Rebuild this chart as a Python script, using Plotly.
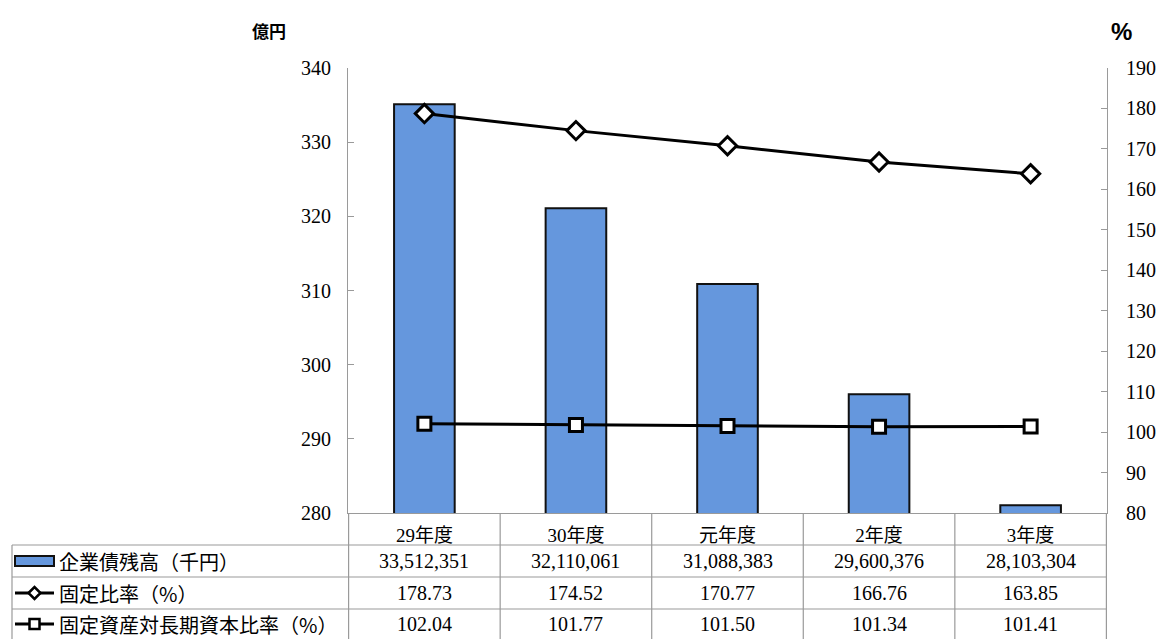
import plotly.graph_objects as go

# Fiscal years and values
years = ["29年度", "30年度", "元年度", "2年度", "3年度"]
bond_balance_k = [33512351, 32110061, 31088383, 29600376, 28103304]   # 企業債残高（千円）
fixed_ratio = [178.73, 174.52, 170.77, 166.76, 163.85]                 # 固定比率（%）
fixed_long_ratio = [102.04, 101.77, 101.50, 101.34, 101.41]            # 固定資産対長期資本比率（%）

row_labels = ["企業債残高（千円）", "固定比率（%）", "固定資産対長期資本比率（%）"]

# bars are plotted in 億円 (1億円 = 100,000千円)
bond_oku = [v / 100000 for v in bond_balance_k]

W, H = 1157, 639
M_L, M_R, M_T, M_B = 348, 50, 68, 126

NUM_FONT = "'Liberation Serif', 'DejaVu Serif', 'Noto Sans CJK JP', serif"
JP_FONT = "'Noto Sans CJK JP', sans-serif"
GRID = "#9a9a9a"
BAR_BLUE = "#6597dd"

fig = go.Figure()

fig.add_trace(go.Bar(
    x=years, y=bond_oku, name=row_labels[0],
    marker=dict(color=BAR_BLUE, line=dict(color="#111111", width=2)),
    yaxis="y",
))
fig.add_trace(go.Scatter(
    x=years, y=fixed_ratio, name=row_labels[1], mode="lines+markers",
    line=dict(color="black", width=3),
    marker=dict(symbol="diamond", size=14, color="white", line=dict(color="black", width=3)),
    yaxis="y2",
))
fig.add_trace(go.Scatter(
    x=years, y=fixed_long_ratio, name=row_labels[2], mode="lines+markers",
    line=dict(color="black", width=3),
    marker=dict(symbol="square", size=13, color="white", line=dict(color="black", width=3)),
    yaxis="y2",
))

shapes = []
annotations = []

# table rows (pixel offsets below the x axis line)
row_edges = [-32, -64, -96, -130]
row_centers = [-48, -80, -111]
left_px = 12 - M_L           # left border of the label column, relative to the plot's left edge

# horizontal rules across the label column and data columns
for yy in row_edges[:3]:
    shapes.append(dict(type="line", xref="paper", yref="paper",
                       xsizemode="pixel", ysizemode="pixel", xanchor=0, yanchor=0,
                       x0=left_px, x1=W - M_R - M_L, y0=yy, y1=yy,
                       line=dict(color=GRID, width=1.2)))
# vertical rule on the far left of the label column
shapes.append(dict(type="line", xref="paper", yref="paper",
                   xsizemode="pixel", ysizemode="pixel", xanchor=0, yanchor=0,
                   x0=left_px, x1=left_px, y0=row_edges[0], y1=row_edges[-1],
                   line=dict(color=GRID, width=1.2)))
# column separators between categories
for i in range(len(years) + 1):
    shapes.append(dict(type="line", xref="x", yref="paper",
                       ysizemode="pixel", yanchor=0,
                       x0=i - 0.5, x1=i - 0.5, y0=0, y1=row_edges[-1],
                       line=dict(color=GRID, width=1.2)))

# legend keys inside the label column
key_x0, key_x1 = 15 - M_L, 54 - M_L
key_cx = (key_x0 + key_x1) / 2
shapes.append(dict(type="rect", xref="paper", yref="paper",
                   xsizemode="pixel", ysizemode="pixel", xanchor=0, yanchor=0,
                   x0=key_x0, x1=key_x1, y0=row_centers[0] + 5, y1=row_centers[0] - 5,
                   fillcolor=BAR_BLUE, line=dict(color="#111111", width=2)))
for r in (1, 2):
    yc = row_centers[r]
    shapes.append(dict(type="line", xref="paper", yref="paper",
                       xsizemode="pixel", ysizemode="pixel", xanchor=0, yanchor=0,
                       x0=key_x0, x1=key_x1, y0=yc, y1=yc,
                       line=dict(color="black", width=3)))
d = 6
shapes.append(dict(type="path", xref="paper", yref="paper",
                   xsizemode="pixel", ysizemode="pixel", xanchor=0, yanchor=0,
                   path=f"M{key_cx - d},{row_centers[1]} L{key_cx},{row_centers[1] + d} "
                        f"L{key_cx + d},{row_centers[1]} L{key_cx},{row_centers[1] - d} Z",
                   fillcolor="white", line=dict(color="black", width=2.5)))
s = 5
shapes.append(dict(type="rect", xref="paper", yref="paper",
                   xsizemode="pixel", ysizemode="pixel", xanchor=0, yanchor=0,
                   x0=key_cx - s, x1=key_cx + s, y0=row_centers[2] - s, y1=row_centers[2] + s,
                   fillcolor="white", line=dict(color="black", width=2.5)))

# row labels
for lab, yc in zip(row_labels, row_centers):
    annotations.append(dict(text=lab, xref="paper", yref="paper", x=0, y=0,
                            xshift=57 - M_L, yshift=yc, xanchor="left", yanchor="middle",
                            showarrow=False, font=dict(family=JP_FONT, size=20, color="black")))

# table values
rows = [
    [f"{v:,}" for v in bond_balance_k],
    [f"{v:.2f}" for v in fixed_ratio],
    [f"{v:.2f}" for v in fixed_long_ratio],
]
for vals, yc in zip(rows, row_centers):
    for yr, txt in zip(years, vals):
        annotations.append(dict(text=txt, xref="x", yref="paper", x=yr, y=0,
                                yshift=yc, xanchor="center", yanchor="middle",
                                showarrow=False, font=dict(family=NUM_FONT, size=20, color="black")))

# axis unit labels
annotations.append(dict(text="<b>億円</b>", xref="paper", yref="paper", x=0, y=1,
                        xshift=269 - M_L, yshift=38, xanchor="center", yanchor="middle",
                        showarrow=False, font=dict(family=JP_FONT, size=17, color="black")))
annotations.append(dict(text="<b>%</b>", xref="paper", yref="paper", x=1, y=1,
                        xshift=1121 - (W - M_R), yshift=37, xanchor="center", yanchor="middle",
                        showarrow=False, font=dict(family="'Liberation Sans', sans-serif", size=24, color="black")))

fig.update_layout(
    width=W, height=H,
    margin=dict(l=M_L, r=M_R, t=M_T, b=M_B, pad=0, autoexpand=False),
    paper_bgcolor="white", plot_bgcolor="white",
    showlegend=False,
    bargap=0.6,
    xaxis=dict(type="category", showgrid=False, zeroline=False, automargin=False,
               showline=True, linecolor=GRID, linewidth=1.2,
               ticks="", ticklabelstandoff=5,
               tickfont=dict(family=NUM_FONT, size=19, color="black")),
    yaxis=dict(range=[280, 340], dtick=10, showgrid=False, zeroline=False, automargin=False,
               showline=True, linecolor=GRID, linewidth=1.2,
               ticks="inside", ticklen=6, tickcolor=GRID, ticklabelstandoff=12,
               tickfont=dict(family=NUM_FONT, size=20, color="black")),
    yaxis2=dict(range=[80, 190], dtick=10, overlaying="y", side="right",
                showgrid=False, zeroline=False, automargin=False,
                showline=True, linecolor=GRID, linewidth=1.2,
                ticks="inside", ticklen=6, tickcolor=GRID, ticklabelstandoff=14,
                tickfont=dict(family=NUM_FONT, size=20, color="black")),
    shapes=shapes,
    annotations=annotations,
)

fig.write_html("out.html")
